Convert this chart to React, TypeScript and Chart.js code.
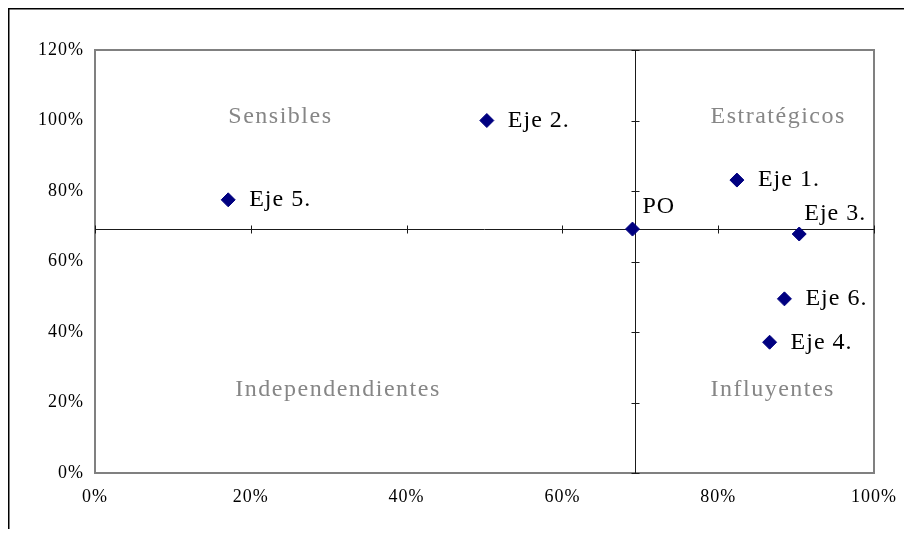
import React, { useEffect, useRef } from 'react';
import { Chart, registerables } from 'chart.js';

Chart.register(...registerables);

// Point data (fractions of 1 = 100%)
const pointNames = ['PO', 'Eje 1.', 'Eje 2.', 'Eje 3.', 'Eje 4.', 'Eje 5.', 'Eje 6.'];
const xValues = [0.69, 0.824, 0.503, 0.904, 0.866, 0.171, 0.885];
const yValues = [0.692, 0.831, 1.0, 0.678, 0.371, 0.775, 0.494];
const labelPlacement = ['aboveRight', 'right', 'right', 'above', 'right', 'right', 'right'];

// Axis crossing point
const crossX = 0.693;
const crossY = 0.692;

// Quadrant captions
const quadrantNames = ['Sensibles', 'Estratégicos', 'Independendientes', 'Influyentes'];
const quadrantX = [0.238, 0.877, 0.312, 0.87];
const quadrantY = [1.01, 1.01, 0.235, 0.235];

const xMin = 0;
const xMax = 1;
const yMin = 0;
const yMax = 1.2;
const tickStep = 0.2;

const SERIF = "'Liberation Serif', 'Times New Roman', Times, serif";

export default function App() {
  const ref = useRef<HTMLCanvasElement>(null);

  useEffect(() => {
    const canvas = ref.current;
    if (!canvas) return;

    const decorPlugin = {
      id: 'decor',
      beforeDraw(chart: any) {
        chart.ctx.letterSpacing = '1px';
      },
      beforeDatasetsDraw(chart: any) {
        const { ctx, chartArea: a, scales } = chart;
        ctx.letterSpacing = '0px';
        ctx.save();
        // outer frame (top & left visible)
        ctx.strokeStyle = '#000';
        ctx.lineWidth = 1.5;
        ctx.beginPath();
        ctx.moveTo(0.75, chart.height);
        ctx.lineTo(0.75, 0.75);
        ctx.lineTo(chart.width, 0.75);
        ctx.stroke();

        // plot border
        ctx.strokeStyle = '#808080';
        ctx.lineWidth = 2;
        ctx.strokeRect(a.left, a.top, a.right - a.left, a.bottom - a.top);

        // crossing axes
        const cx = Math.round(scales.x.getPixelForValue(crossX)) + 0.5;
        const cy = Math.round(scales.y.getPixelForValue(crossY)) + 0.5;
        ctx.strokeStyle = '#1a1a1a';
        ctx.lineWidth = 1;
        ctx.beginPath();
        ctx.moveTo(cx, a.top);
        ctx.lineTo(cx, a.bottom);
        ctx.moveTo(a.left, cy);
        ctx.lineTo(a.right, cy);
        scales.y.ticks.forEach((t: any) => {
          const ty = Math.round(scales.y.getPixelForValue(t.value)) + 0.5;
          ctx.moveTo(cx - 4, ty);
          ctx.lineTo(cx + 4, ty);
        });
        scales.x.ticks.forEach((t: any) => {
          const tx = Math.round(scales.x.getPixelForValue(t.value)) + 0.5;
          ctx.moveTo(tx, cy - 4);
          ctx.lineTo(tx, cy + 4);
        });
        ctx.stroke();

        // quadrant captions
        ctx.fillStyle = '#868686';
        ctx.font = `24px ${SERIF}`;
        ctx.letterSpacing = '1.5px';
        ctx.textAlign = 'center';
        ctx.textBaseline = 'middle';
        quadrantNames.forEach((name, i) => {
          ctx.fillText(name, scales.x.getPixelForValue(quadrantX[i]), scales.y.getPixelForValue(quadrantY[i]));
        });
        ctx.restore();
      },
      afterDatasetsDraw(chart: any) {
        const { ctx, scales } = chart;
        ctx.save();
        ctx.fillStyle = '#000';
        ctx.font = `24px ${SERIF}`;
        ctx.letterSpacing = '1px';
        ctx.textAlign = 'left';
        pointNames.forEach((name, i) => {
          const px = scales.x.getPixelForValue(xValues[i]);
          const py = scales.y.getPixelForValue(yValues[i]);
          const place = labelPlacement[i];
          if (place === 'right') {
            ctx.textBaseline = 'middle';
            ctx.fillText(name, px + 21, py);
          } else if (place === 'aboveRight') {
            ctx.textBaseline = 'alphabetic';
            ctx.fillText(name, px + 10, py - 16);
          } else {
            ctx.textBaseline = 'alphabetic';
            ctx.fillText(name, px + 5, py - 14);
          }
        });
        ctx.restore();
      },
    };

    const chart = new Chart(canvas, {
      type: 'scatter',
      data: {
        datasets: [
          {
            data: xValues.map((x, i) => ({ x, y: yValues[i] })),
            pointStyle: 'rectRot',
            pointRadius: 7,
            pointBorderWidth: 1,
            backgroundColor: '#000080',
            borderColor: '#000080',
            showLine: false,
          },
        ],
      },
      options: {
        responsive: false,
        animation: false,
        events: [],
        layout: { padding: { top: 42, right: 30, left: 0, bottom: 0 } },
        plugins: { legend: { display: false }, tooltip: { enabled: false } },
        scales: {
          x: {
            type: 'linear',
            min: xMin,
            max: xMax,
            grid: { display: false, drawTicks: false },
            border: { display: false },
            ticks: {
              stepSize: tickStep,
              padding: 13,
              color: '#000',
              font: { family: SERIF, size: 18 },
              maxRotation: 0,
              callback: (v: any) => Math.round(Number(v) * 100) + '%',
            },
            afterFit: (s: any) => {
              s.height = 56;
              s.paddingLeft = 0;
              s.paddingRight = 0;
            },
          },
          y: {
            type: 'linear',
            min: yMin,
            max: yMax,
            grid: { display: false, drawTicks: false },
            border: { display: false },
            ticks: {
              stepSize: tickStep,
              padding: 11,
              color: '#000',
              font: { family: SERIF, size: 18 },
              callback: (v: any) => Math.round(Number(v) * 100) + '%',
            },
            afterFit: (s: any) => {
              s.width = 87;
              s.paddingTop = 0;
              s.paddingBottom = 0;
            },
          },
        },
      },
      plugins: [decorPlugin],
    });

    return () => chart.destroy();
  }, []);

  return (
    <div style={{ width: 896, height: 521 }}>
      <canvas ref={ref} width={896} height={521} style={{ display: 'block', width: 896, height: 521 }} />
    </div>
  );
}
